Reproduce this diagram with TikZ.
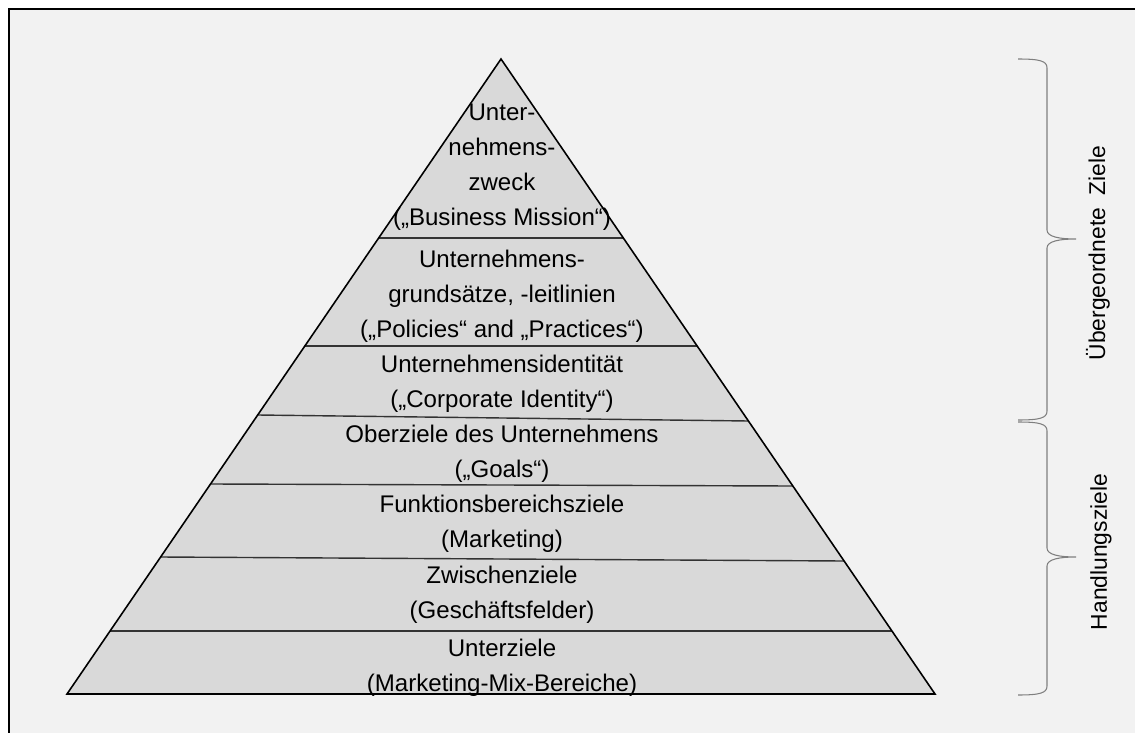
\documentclass[tikz,border=0pt]{standalone}
\usepackage{fontspec}
\setmainfont{Liberation Sans}
\definecolor{bggray}{HTML}{F2F2F2}
\definecolor{pyrgray}{HTML}{D9D9D9}
\definecolor{bracegray}{HTML}{7F7F7F}
\tikzset{
  ebene/.style={align=center, font=\fontsize{13.7}{19.9}\selectfont},
  seite/.style={rotate=90, font=\fontsize{13}{16}\selectfont},
  trenn/.style={black!80, line width=0.8pt},
  klammer/.style={bracegray, line width=0.6pt}
}
\begin{document}
\begin{tikzpicture}[x=0.02cm, y=-0.02cm]
  \useasboundingbox (0,0) rectangle (1135,733);
  % Frame
  \fill[white] (0,0) rectangle (1135,733);
  \fill[bggray] (9,9) rectangle (1135,733);
  \draw[black, line width=1pt] (9,733) -- (9,9) -- (1135,9);
  % Pyramid
  \fill[pyrgray] (501,59) -- (935,694) -- (67,694) -- cycle;
  \foreach \xl/\yl/\xr/\yr in {378.7/238/623.3/238, 304.8/346/697.2/346,
      257.7/415/748.4/421, 210.5/484/792.9/486, 160.6/557/844.1/561, 110/631/892/631}
    \draw[trenn] (\xl,\yl) -- (\xr,\yr);
  \draw[black, line width=0.9pt, line join=miter] (501,59) -- (935,694) -- (67,694) -- cycle;
  % Layer labels
  \node[ebene] (zweck)    at (502,167) {Unter-\\nehmens-\\zweck\\(„Business Mission“)};
  \node[ebene] (leit)     at (502,296) {Unternehmens-\\grundsätze, -leitlinien\\(„Policies“ and „Practices“)};
  \node[ebene] (ident)    at (502,384) {Unternehmensidentität\\(„Corporate Identity“)};
  \node[ebene] (goals)    at (502,454) {Oberziele des Unternehmens\\(„Goals“)};
  \node[ebene] (funktion) at (502,524) {Funktionsbereichsziele\\(Marketing)};
  \node[ebene] (zwischen) at (502,595) {Zwischenziele\\(Geschäftsfelder)};
  \node[ebene] (unter)    at (502,668) {Unterziele\\(Marketing-Mix-Bereiche)};
  % Braces
  \draw[klammer] (1018,59) .. controls (1040,59) and (1047,61) .. (1047,68) -- (1047,230)
    .. controls (1047,237) and (1060,239) .. (1076,239)
    .. controls (1060,239) and (1047,241) .. (1047,248) -- (1047,411)
    .. controls (1047,418) and (1040,420) .. (1018,420);
  \draw[klammer] (1018,422) .. controls (1040,422) and (1047,424) .. (1047,431) -- (1047,548)
    .. controls (1047,555) and (1060,557) .. (1076,557)
    .. controls (1060,557) and (1047,559) .. (1047,566) -- (1047,686)
    .. controls (1047,693) and (1040,695) .. (1018,695);
  \node[seite] (oben)     at (1098,253) {Übergeordnete\ \ Ziele};
  \node[seite] (handlung) at (1101,552) {Handlungsziele};
\end{tikzpicture}
\end{document}
